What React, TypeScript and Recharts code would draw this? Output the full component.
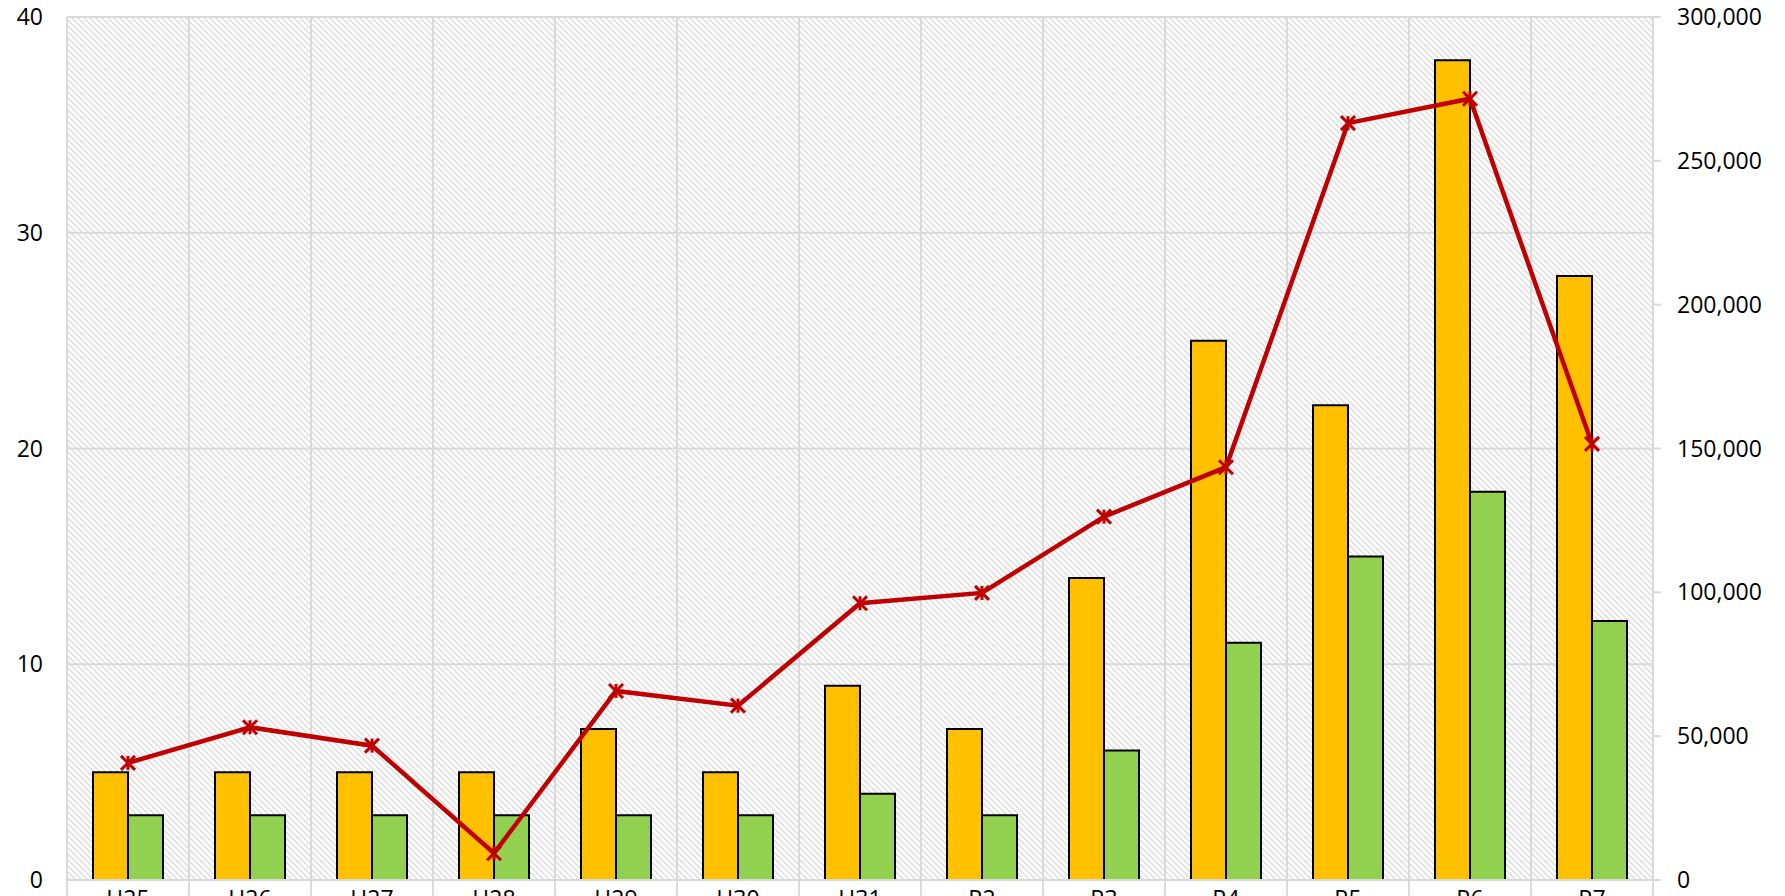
import React from 'react';
import { ComposedChart, Bar, Line, XAxis, YAxis, CartesianGrid } from 'recharts';

const categories = ['H25', 'H26', 'H27', 'H28', 'H29', 'H30', 'H31', 'R2', 'R3', 'R4', 'R5', 'R6', 'R7'];
const yellowValues = [5, 5, 5, 5, 7, 5, 9, 7, 14, 25, 22, 38, 28];
const greenValues = [3, 3, 3, 3, 3, 3, 4, 3, 6, 11, 15, 18, 12];
const lineValues = [40700, 53100, 46700, 9300, 65700, 60600, 96200, 99800, 126300, 143500, 263100, 271600, 151600];
const leftTicks = [0, 10, 20, 30, 40];
const rightTicks = [0, 50000, 100000, 150000, 200000, 250000, 300000];

const data = categories.map((name, i) => ({
  name,
  yellow: yellowValues[i],
  green: greenValues[i],
  amount: lineValues[i],
}));

const W = 1785;
const H = 940;
const MARGIN = { top: 17, right: 22, bottom: 30, left: 7 };
const LEFT_AXIS_W = 60;
const RIGHT_AXIS_W = 110;
const PLOT_W = W - MARGIN.left - MARGIN.right - LEFT_AXIS_W - RIGHT_AXIS_W;
const BAND = PLOT_W / categories.length;

const GRID = '#d9d9d9';
const RED = '#C00000';
const FONT = '"Open Sans", sans-serif';

// category label plus the boundary tick marks under the axis
const CategoryTick = (props: any) => {
  const { x, y, payload, index } = props;
  const half = BAND / 2;
  return (
    <g>
      <line x1={x - half} y1={y} x2={x - half} y2={y + 20} stroke={GRID} strokeWidth={2} />
      {index === categories.length - 1 && (
        <line x1={x + half} y1={y} x2={x + half} y2={y + 20} stroke={GRID} strokeWidth={2} />
      )}
      <text x={x} y={y + 27} textAnchor="middle" fontSize={23} fill="#000" fontFamily={FONT}>
        {payload.value}
      </text>
    </g>
  );
};

const StarDot = (props: any) => {
  const { cx, cy, index } = props;
  if (cx == null || cy == null) return <g key={index} />;
  const s = 7;
  return (
    <g key={index} stroke={RED} strokeWidth={3}>
      <line x1={cx - s} y1={cy - s} x2={cx + s} y2={cy + s} />
      <line x1={cx - s} y1={cy + s} x2={cx + s} y2={cy - s} />
      <line x1={cx} y1={cy - s} x2={cx} y2={cy + s} />
    </g>
  );
};

export default function App() {
  return (
    <div style={{ position: 'absolute', left: 0, top: 0, width: W, height: 896, overflow: 'hidden', background: '#fff', fontFamily: FONT }}>
      <svg width={0} height={0} style={{ position: 'absolute' }}>
        <defs>
          <pattern id="hatch" width={6} height={6} patternUnits="userSpaceOnUse">
            <rect width={6} height={6} fill="#ffffff" />
            <path d="M-1,-1 L7,7 M-1,5 L1,7 M5,-1 L7,1" stroke="#dddddd" strokeWidth={1.5} />
          </pattern>
        </defs>
      </svg>
      <ComposedChart width={W} height={H} data={data} margin={MARGIN} barGap={0}>
        <CartesianGrid
          yAxisId="left"
          stroke={GRID}
          strokeWidth={2}
          fill="url(#hatch)"
          fillOpacity={1}
          verticalCoordinatesGenerator={({ offset }: any) =>
            Array.from({ length: categories.length + 1 }, (_, i) => offset.left + (i * offset.width) / categories.length)
          }
        />
        <XAxis
          dataKey="name"
          height={30}
          tickSize={0}
          tickMargin={0}
          tickLine={false}
          axisLine={{ stroke: GRID, strokeWidth: 2 }}
          tick={<CategoryTick />}
          interval={0}
        />
        <YAxis
          yAxisId="left"
          width={LEFT_AXIS_W}
          domain={[0, 40]}
          ticks={leftTicks}
          axisLine={false}
          tickLine={false}
          tickSize={0}
          tickMargin={24}
          tick={{ fontSize: 23, fill: '#000', fontFamily: FONT }}
        />
        <YAxis
          yAxisId="right"
          orientation="right"
          width={RIGHT_AXIS_W}
          domain={[0, 300000]}
          ticks={rightTicks}
          axisLine={false}
          tickLine={{ stroke: GRID, strokeWidth: 2 }}
          tickSize={8}
          tickMargin={16}
          tick={{ fontSize: 23, fill: '#000', fontFamily: FONT }}
          tickFormatter={(v: number) => v.toLocaleString('en-US')}
        />
        <Bar yAxisId="left" dataKey="yellow" fill="#FFC000" stroke="#000" strokeWidth={2} barSize={35} isAnimationActive={false} />
        <Bar yAxisId="left" dataKey="green" fill="#92D050" stroke="#000" strokeWidth={2} barSize={35} isAnimationActive={false} />
        <Line
          yAxisId="right"
          dataKey="amount"
          stroke={RED}
          strokeWidth={4.5}
          type="linear"
          dot={<StarDot />}
          activeDot={false}
          isAnimationActive={false}
        />
      </ComposedChart>
    </div>
  );
}
